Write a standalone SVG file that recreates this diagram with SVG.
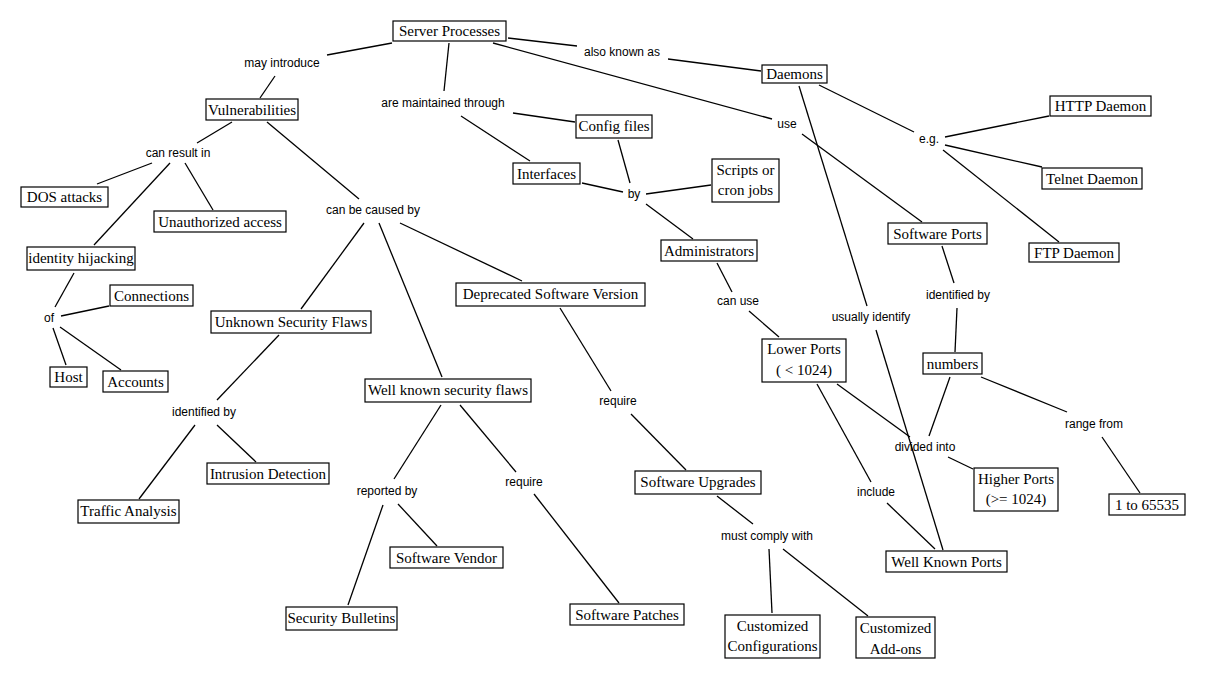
<svg xmlns="http://www.w3.org/2000/svg" width="1225" height="699" viewBox="0 0 1225 699">
<style>
.n rect{fill:#fff;stroke:#000;stroke-width:1.2}
.n text{font-family:"Liberation Serif","Times New Roman",serif;font-size:15px;fill:#000;text-anchor:middle}
.l text{font-family:"Liberation Sans",Arial,sans-serif;font-size:12px;fill:#000;text-anchor:middle}
#connectors line{stroke:#000;stroke-width:1.3}
</style>
<rect width="1225" height="699" fill="#fff"/>
<g id="connectors">
<line x1="392" y1="43" x2="327" y2="55"/>
<line x1="275" y1="76" x2="260" y2="98"/>
<line x1="449" y1="43" x2="444" y2="91"/>
<line x1="513" y1="113" x2="575" y2="122"/>
<line x1="461" y1="116" x2="530" y2="161"/>
<line x1="508" y1="38" x2="577" y2="46"/>
<line x1="668" y1="59" x2="761" y2="71"/>
<line x1="493" y1="43" x2="772" y2="119"/>
<line x1="802" y1="134" x2="922" y2="222"/>
<line x1="618" y1="140" x2="630" y2="183"/>
<line x1="582" y1="183" x2="623" y2="192"/>
<line x1="646" y1="194" x2="711" y2="185"/>
<line x1="646" y1="204" x2="693" y2="239"/>
<line x1="799" y1="86" x2="867" y2="306"/>
<line x1="876" y1="330" x2="943" y2="550"/>
<line x1="819" y1="85" x2="914" y2="132"/>
<line x1="945" y1="137" x2="1049" y2="116"/>
<line x1="945" y1="145" x2="1042" y2="167"/>
<line x1="943" y1="150" x2="1059" y2="242"/>
<line x1="942" y1="246" x2="954" y2="283"/>
<line x1="957" y1="308" x2="955" y2="352"/>
<line x1="950" y1="377" x2="929" y2="436"/>
<line x1="981" y1="377" x2="1067" y2="412"/>
<line x1="1102" y1="437" x2="1140" y2="493"/>
<line x1="948" y1="457" x2="973" y2="469"/>
<line x1="837" y1="384" x2="910" y2="437"/>
<line x1="817" y1="384" x2="871" y2="482"/>
<line x1="887" y1="503" x2="935" y2="549"/>
<line x1="717" y1="263" x2="732" y2="292"/>
<line x1="749" y1="311" x2="779" y2="337"/>
<line x1="717" y1="496" x2="753" y2="524"/>
<line x1="769" y1="549" x2="772" y2="613"/>
<line x1="783" y1="549" x2="868" y2="616"/>
<line x1="560" y1="308" x2="611" y2="391"/>
<line x1="631" y1="414" x2="686" y2="470"/>
<line x1="232" y1="122" x2="197" y2="143"/>
<line x1="152" y1="163" x2="97" y2="184"/>
<line x1="185" y1="163" x2="213" y2="210"/>
<line x1="170" y1="163" x2="94" y2="245"/>
<line x1="267" y1="122" x2="359" y2="199"/>
<line x1="364" y1="223" x2="301" y2="309"/>
<line x1="379" y1="223" x2="442" y2="377"/>
<line x1="400" y1="223" x2="522" y2="281"/>
<line x1="74" y1="273" x2="55" y2="307"/>
<line x1="61" y1="316" x2="109" y2="306"/>
<line x1="53" y1="328" x2="66" y2="365"/>
<line x1="60" y1="327" x2="121" y2="370"/>
<line x1="279" y1="335" x2="217" y2="400"/>
<line x1="195" y1="425" x2="139" y2="499"/>
<line x1="217" y1="425" x2="256" y2="462"/>
<line x1="441" y1="405" x2="394" y2="479"/>
<line x1="383" y1="505" x2="348" y2="605"/>
<line x1="398" y1="504" x2="437" y2="546"/>
<line x1="460" y1="405" x2="516" y2="472"/>
<line x1="534" y1="494" x2="619" y2="603"/>
</g>
<g class="l">
<g id="lp-may-introduce"><text x="282" y="67">may introduce</text></g>
<g id="lp-maintained"><text x="443" y="107">are maintained through</text></g>
<g id="lp-also-known"><text x="622" y="56">also known as</text></g>
<g id="lp-use"><text x="787" y="128">use</text></g>
<g id="lp-can-result"><text x="178" y="157">can result in</text></g>
<g id="lp-caused-by"><text x="373" y="214">can be caused by</text></g>
<g id="lp-by"><text x="634" y="198">by</text></g>
<g id="lp-eg"><text x="929" y="143">e.g.</text></g>
<g id="lp-identified-right"><text x="958" y="299">identified by</text></g>
<g id="lp-of"><text x="49" y="322">of</text></g>
<g id="lp-identified-left"><text x="204" y="416">identified by</text></g>
<g id="lp-require-mid"><text x="618" y="405">require</text></g>
<g id="lp-reported-by"><text x="387" y="495">reported by</text></g>
<g id="lp-require-low"><text x="524" y="486">require</text></g>
<g id="lp-can-use"><text x="738" y="305">can use</text></g>
<g id="lp-usually"><text x="871" y="321">usually identify</text></g>
<g id="lp-divided"><text x="925" y="451">divided into</text></g>
<g id="lp-include"><text x="876" y="496">include</text></g>
<g id="lp-comply"><text x="767" y="540">must comply with</text></g>
<g id="lp-range"><text x="1094" y="428">range from</text></g>
</g>
<g class="n">
<g id="server-processes"><rect x="393" y="21" width="113" height="20"/><text x="449.5" y="36">Server Processes</text></g>
<g id="daemons"><rect x="762" y="65" width="65" height="18"/><text x="794.5" y="79">Daemons</text></g>
<g id="vulnerabilities"><rect x="206" y="99" width="92" height="21"/><text x="252" y="115">Vulnerabilities</text></g>
<g id="dos-attacks"><rect x="21" y="187" width="87" height="20"/><text x="64.5" y="202">DOS attacks</text></g>
<g id="unauthorized-access"><rect x="154" y="211" width="132" height="21"/><text x="220" y="227">Unauthorized access</text></g>
<g id="identity-hijacking"><rect x="27" y="247" width="108" height="23"/><text x="81" y="263">identity hijacking</text></g>
<g id="connections"><rect x="110" y="285" width="83" height="21"/><text x="151.5" y="301">Connections</text></g>
<g id="host"><rect x="50" y="367" width="37" height="20"/><text x="68.5" y="382">Host</text></g>
<g id="accounts"><rect x="103" y="371" width="65" height="21"/><text x="135.5" y="387">Accounts</text></g>
<g id="unknown-flaws"><rect x="211" y="311" width="160" height="22"/><text x="291" y="327">Unknown Security Flaws</text></g>
<g id="intrusion-detection"><rect x="207" y="463" width="122" height="21"/><text x="268" y="479">Intrusion Detection</text></g>
<g id="traffic-analysis"><rect x="78" y="500" width="101" height="23"/><text x="128.5" y="516">Traffic Analysis</text></g>
<g id="well-known-flaws"><rect x="365" y="379" width="166" height="23"/><text x="448" y="395">Well known security flaws</text></g>
<g id="deprecated"><rect x="456" y="283" width="189" height="23"/><text x="550.5" y="299">Deprecated Software Version</text></g>
<g id="software-vendor"><rect x="390" y="547" width="113" height="21"/><text x="446.5" y="563">Software Vendor</text></g>
<g id="security-bulletins"><rect x="286" y="607" width="111" height="23"/><text x="341.5" y="623">Security Bulletins</text></g>
<g id="software-patches"><rect x="570" y="604" width="114" height="21"/><text x="627" y="620">Software Patches</text></g>
<g id="software-upgrades"><rect x="635" y="471" width="126" height="23"/><text x="698" y="487">Software Upgrades</text></g>
<g id="administrators"><rect x="661" y="240" width="96" height="21"/><text x="709" y="256">Administrators</text></g>
<g id="lower-ports"><rect x="762" y="339" width="84" height="43"/><text x="804" y="354">Lower Ports</text><text x="804" y="375">( &lt; 1024)</text></g>
<g id="well-known-ports"><rect x="886" y="551" width="121" height="21"/><text x="946.5" y="567">Well Known Ports</text></g>
<g id="customized-configurations"><rect x="725" y="615" width="95" height="43"/><text x="772.5" y="631">Customized</text><text x="772.5" y="651">Configurations</text></g>
<g id="customized-addons"><rect x="856" y="617" width="79" height="41"/><text x="895.5" y="633">Customized</text><text x="895.5" y="654">Add-ons</text></g>
<g id="numbers"><rect x="923" y="353" width="59" height="21"/><text x="952.5" y="369">numbers</text></g>
<g id="higher-ports"><rect x="974" y="468" width="84" height="43"/><text x="1016" y="484">Higher Ports</text><text x="1016" y="504">(&gt;= 1024)</text></g>
<g id="range-values"><rect x="1109" y="494" width="76" height="21"/><text x="1147" y="510">1 to 65535</text></g>
<g id="config-files"><rect x="576" y="115" width="76" height="23"/><text x="614" y="131">Config files</text></g>
<g id="interfaces"><rect x="513" y="163" width="67" height="21"/><text x="546.5" y="179">Interfaces</text></g>
<g id="scripts"><rect x="712" y="159" width="67" height="43"/><text x="745.5" y="175">Scripts or</text><text x="745.5" y="195">cron jobs</text></g>
<g id="http-daemon"><rect x="1050" y="96" width="101" height="20"/><text x="1100.5" y="111">HTTP Daemon</text></g>
<g id="telnet-daemon"><rect x="1042" y="168" width="100" height="21"/><text x="1092" y="184">Telnet Daemon</text></g>
<g id="ftp-daemon"><rect x="1029" y="243" width="90" height="19"/><text x="1074" y="258">FTP Daemon</text></g>
<g id="software-ports"><rect x="888" y="223" width="99" height="21"/><text x="937.5" y="239">Software Ports</text></g>
</g>
</svg>
